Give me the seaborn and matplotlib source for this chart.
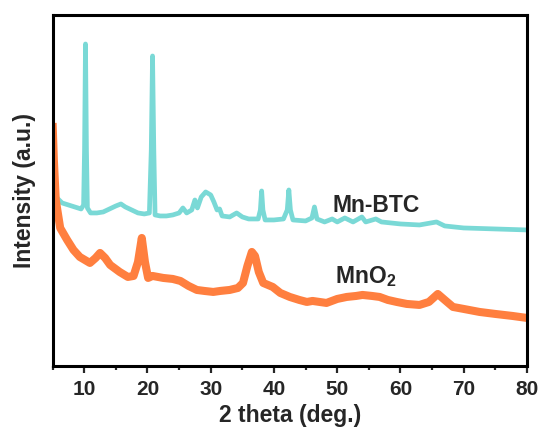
import numpy as np
import pandas as pd
import matplotlib
matplotlib.use("Agg")
import matplotlib.pyplot as plt
import seaborn as sns

# XRD patterns (2 theta in degrees, intensity in arbitrary units)
mnbtc_2theta = [5.0, 5.3, 5.7, 6.5, 8.0, 9.5, 9.9, 10.05, 10.2, 10.35, 10.5, 11, 12, 13, 14, 15,
                15.8, 16.5, 17.5, 18.5, 19.5, 20.3, 20.6, 20.8, 21.0, 21.2, 22, 23, 24, 25,
                25.6, 26.2, 27, 27.5, 27.9, 28.5, 29.2, 30, 30.5, 31, 31.4, 31.8, 33, 34.1,
                35, 36, 37.5, 37.85, 38.05, 38.25, 38.6, 40, 41.5, 42.1, 42.35, 42.6, 43, 45,
                46.0, 46.4, 46.8, 48, 49.2, 50, 51.2, 52.5, 53.9, 54.5, 56.1, 57, 60, 63,
                65.7, 67, 70, 75, 80]
mnbtc_intensity = [194, 176, 168, 163, 160, 157, 161, 216, 322, 216, 158, 153, 153, 154, 157, 160,
                   162, 159, 156, 153, 152, 153, 216, 310, 216, 151, 150, 150, 151, 153,
                   158, 153, 156, 166, 158, 169, 174, 171, 164, 156, 157, 150, 149, 153,
                   149, 147, 147, 156, 175, 156, 146, 146, 147, 156, 176, 156, 146, 145,
                   148, 159, 147, 144, 147, 144, 148, 144, 149, 144, 147, 144, 142, 141,
                   144, 140, 138, 137, 136]

mno2_2theta = [5.0, 5.2, 5.5, 6.2, 7.3, 8.3, 9.3, 10.9, 11.8, 12.5, 13.3, 14.1, 15.6, 16.9,
               17.8, 18.5, 19.1, 19.6, 20.1, 20.8, 22.5, 24, 25.2, 26.5, 27.8, 29, 30.4,
               31.5, 33, 34.3, 35.1, 35.8, 36.5, 37.0, 37.6, 38.3, 39.8, 41, 42.5, 44, 45.2,
               46.1, 48.3, 50, 51.5, 53, 54, 55.5, 56.7, 58, 59.4, 61, 63, 64.5, 65.9, 67,
               68.3, 70, 72.5, 75, 77.7, 80]
mno2_intensity = [243, 206, 166, 138, 126, 116, 109, 103, 108, 113, 108, 101, 94, 89,
                  90, 104, 128, 104, 88, 90, 88, 87, 85, 80, 76, 75, 74,
                  75, 76, 78, 83, 100, 114, 110, 94, 83, 79, 73, 69, 66, 64,
                  65, 63, 67, 69, 70, 71, 70, 69, 66, 64, 62, 61, 64, 72, 66,
                  59, 57, 54, 52, 50, 48]

x_ticks = [10, 20, 30, 40, 50, 60, 70, 80]
x_minor = [5, 15, 25, 35, 45, 55, 65, 75]

df = pd.concat([
    pd.DataFrame({"theta": mnbtc_2theta, "intensity": mnbtc_intensity, "sample": "Mn-BTC"}),
    pd.DataFrame({"theta": mno2_2theta, "intensity": mno2_intensity, "sample": "MnO2"}),
])

sns.set_style("ticks")
plt.rcParams["font.family"] = ["Liberation Sans", "DejaVu Sans"]
plt.rcParams["font.weight"] = "bold"
plt.rcParams["mathtext.fontset"] = "custom"
plt.rcParams["mathtext.rm"] = "Liberation Sans:bold"
plt.rcParams["mathtext.default"] = "rm"

fig = plt.figure(figsize=(5.44, 4.28), dpi=100)
ax = fig.add_axes([0.0967, 0.145, 0.872, 0.82])

palette = {"Mn-BTC": "#7ad9d6", "MnO2": "#ff7f3f"}
for name, lw in [("Mn-BTC", 3.4), ("MnO2", 5.8)]:
    sub = df[df["sample"] == name]
    sns.lineplot(data=sub, x="theta", y="intensity", color=palette[name],
                 linewidth=lw, ax=ax, legend=False, sort=False,
                 solid_joinstyle="round", solid_capstyle="butt")

ax.set_xlim(5, 80)
ax.set_ylim(0, 351)
ax.set_xticks(x_ticks)
ax.set_xticks(x_minor, minor=True)
ax.set_yticks([])
ax.tick_params(axis="x", which="major", length=5, width=1.6, direction="out",
               labelsize=15, pad=5)
ax.tick_params(axis="x", which="minor", length=3, width=1.6, direction="out")
for lab in ax.get_xticklabels():
    lab.set_fontweight("bold")
for sp in ax.spines.values():
    sp.set_visible(True)
    sp.set_linewidth(2.2)
    sp.set_color("black")

ax.set_xlabel("2 theta (deg.)", fontsize=16.5, fontweight="bold", labelpad=4)
ax.set_ylabel("Intensity (a.u.)", fontsize=16.5, fontweight="bold", labelpad=12)

ax.text(49.3, 154, "Mn-BTC", fontsize=16.5, fontweight="bold", ha="left", va="baseline")
ax.text(49.6, 83, r"MnO$_2$", fontsize=16.5, fontweight="bold", ha="left", va="baseline")

fig.savefig("out.png", dpi=100, facecolor="white")
